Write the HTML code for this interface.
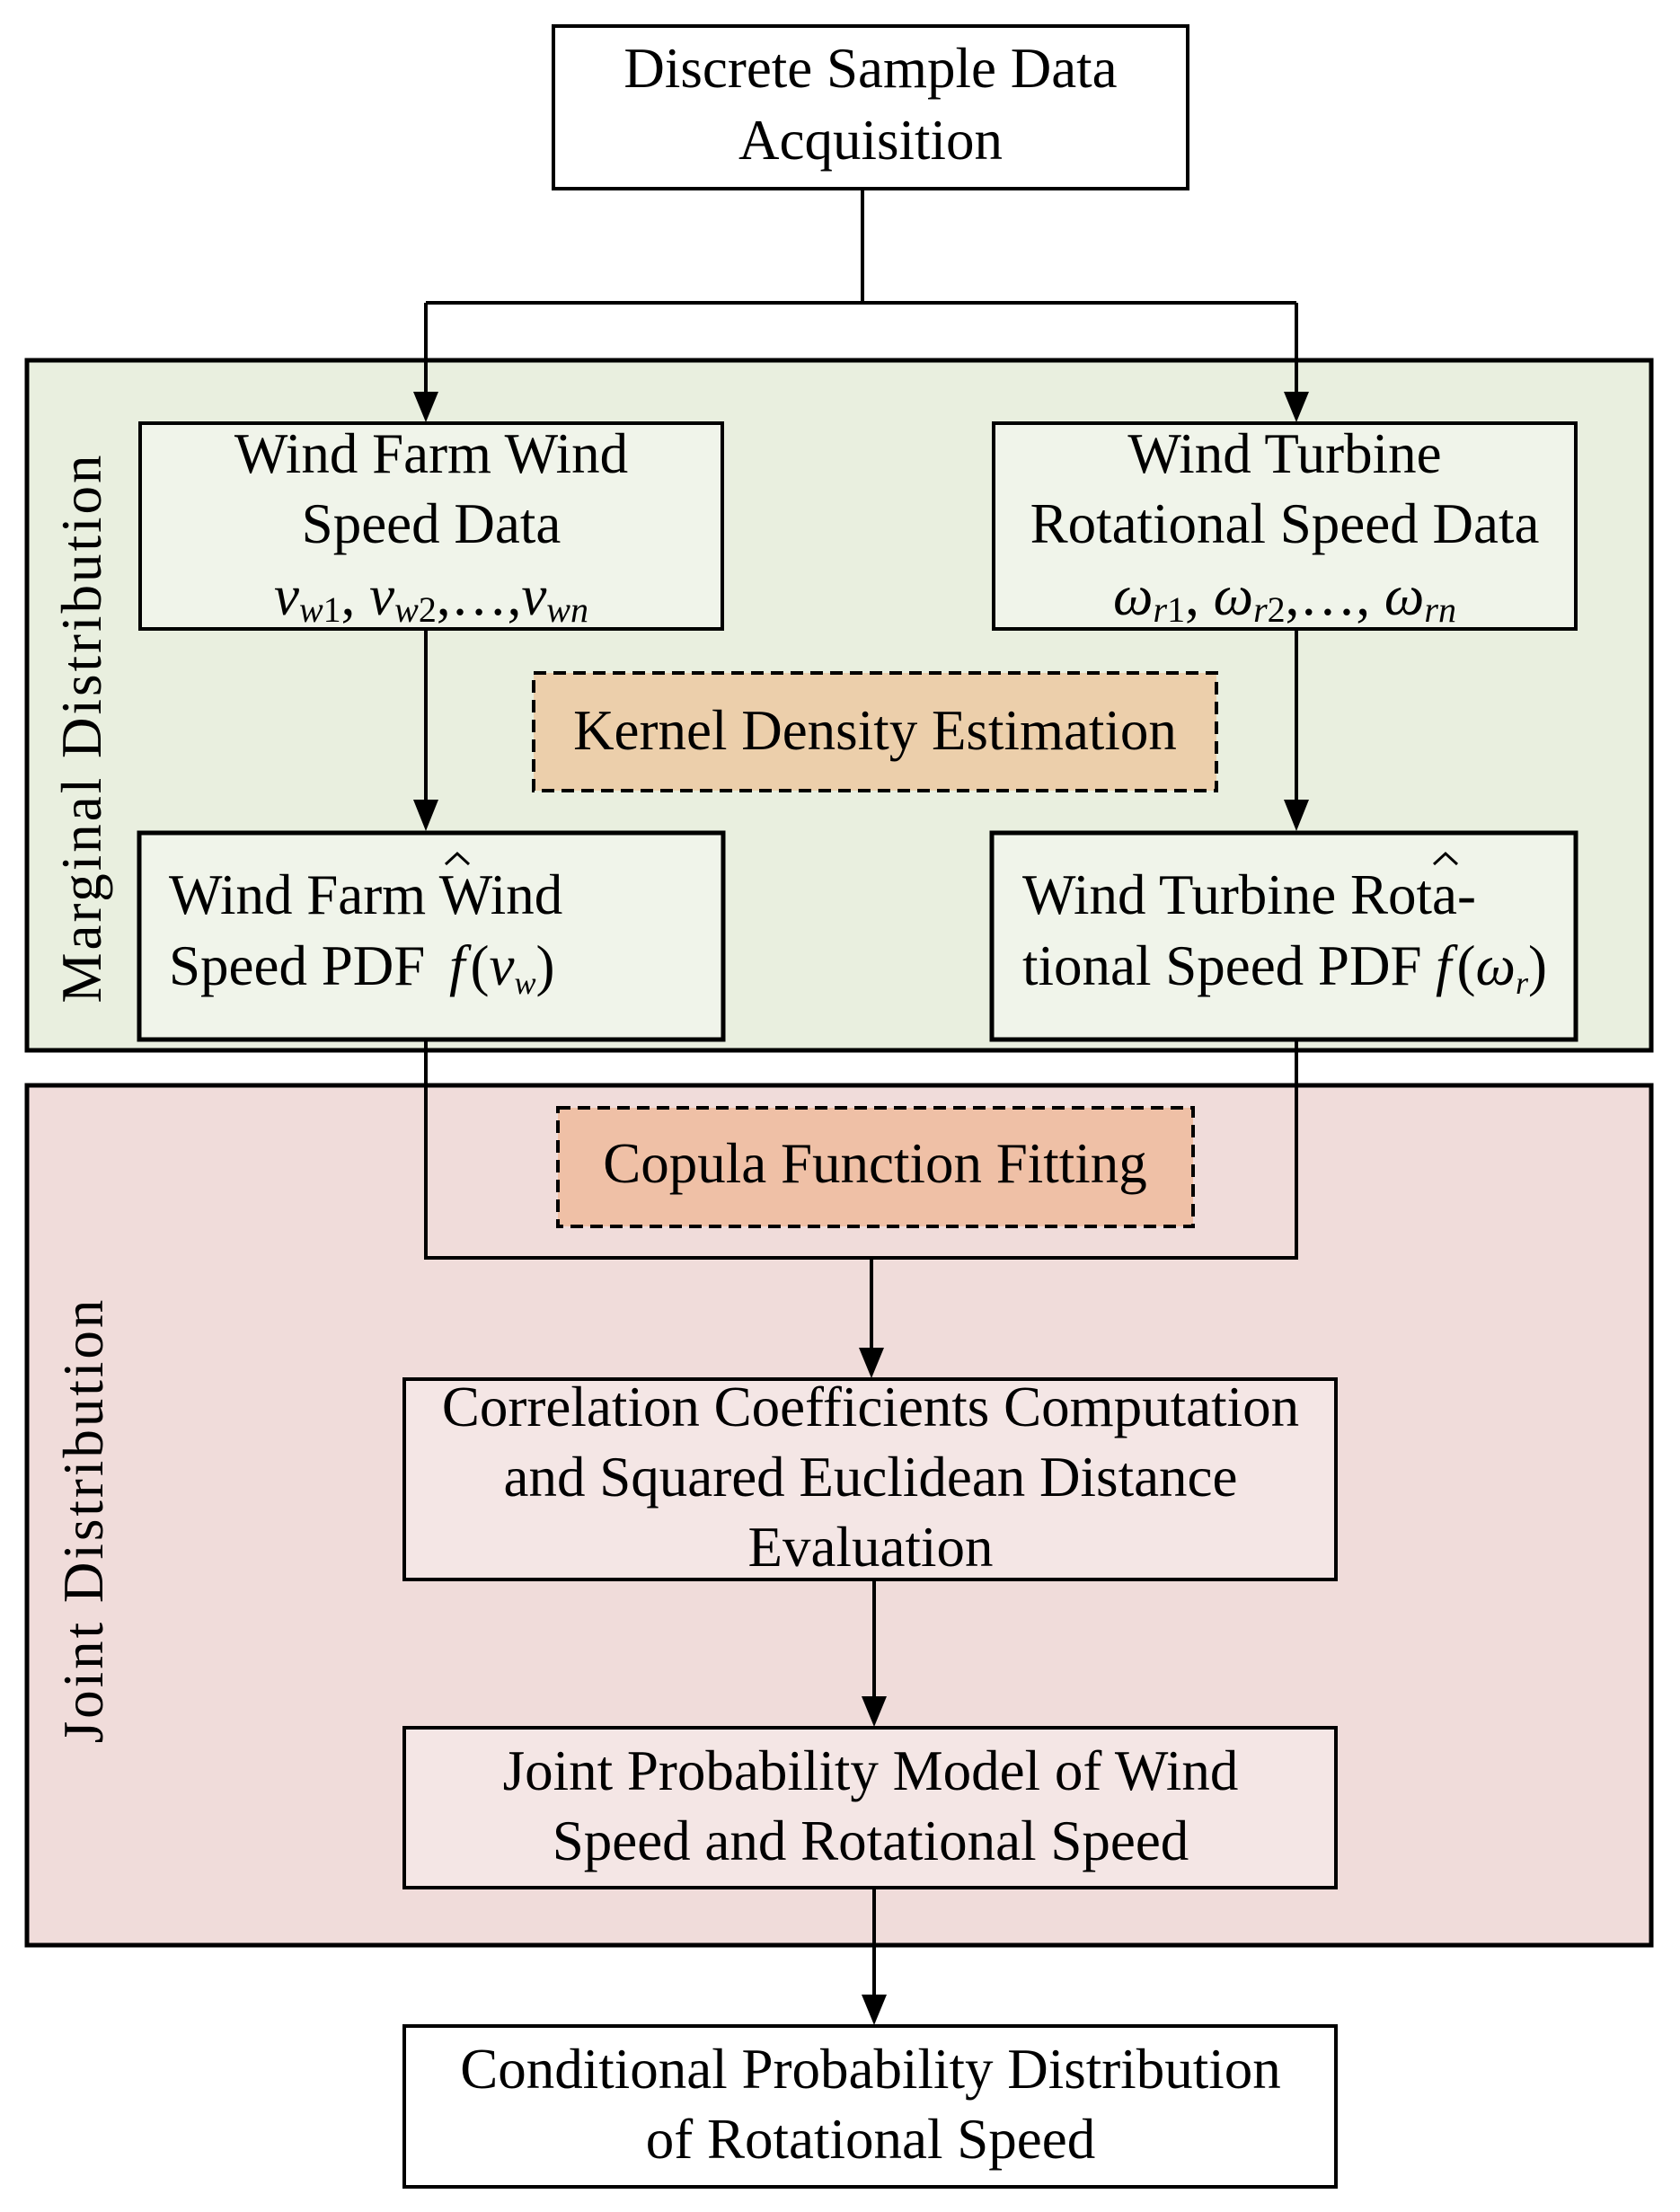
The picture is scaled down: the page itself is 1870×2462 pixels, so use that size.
<!DOCTYPE html>
<html><head><meta charset="utf-8"><style>
html,body{margin:0;padding:0;background:#fff;}
svg{display:block;}
text{font-family:"Liberation Serif",serif;font-size:63px;fill:#000;}
</style></head><body>
<svg width="1870" height="2462" viewBox="0 0 1870 2462" xmlns="http://www.w3.org/2000/svg">
<rect x="30" y="401" width="1808" height="768" fill="#e9efdf" stroke="#000" stroke-width="5"/>
<rect x="30" y="1208" width="1808" height="957" fill="#f0dcda" stroke="#000" stroke-width="5"/>
<rect x="616" y="29" width="706" height="181" fill="#fff" stroke="#000" stroke-width="4"/>
<text x="969" y="97" text-anchor="middle">Discrete Sample Data</text>
<text x="969" y="177" text-anchor="middle">Acquisition</text>
<g stroke="#000" stroke-width="4" fill="none">
<polyline points="960,210 960,337"/>
<polyline points="474,337 1443,337"/>
<line x1="474" y1="337" x2="474" y2="440"/>
<line x1="1443" y1="337" x2="1443" y2="440"/>
<line x1="474" y1="700" x2="474" y2="895"/>
<line x1="1443" y1="700" x2="1443" y2="895"/>
<polyline points="474,1155 474,1400 1443,1400 1443,1155"/>
<line x1="970" y1="1400" x2="970" y2="1502"/>
<line x1="973" y1="1759" x2="973" y2="1890"/>
<line x1="973" y1="2102" x2="973" y2="2222"/>
</g>
<g fill="#000">
<path d="M460,436 L488,436 L474,470 z"/>
<path d="M1429,436 L1457,436 L1443,470 z"/>
<path d="M460,890 L488,890 L474,925 z"/>
<path d="M1429,890 L1457,890 L1443,925 z"/>
<path d="M956,1500 L984,1500 L970,1534 z"/>
<path d="M959,1888 L987,1888 L973,1922 z"/>
<path d="M959,2220 L987,2220 L973,2254 z"/>
</g>
<rect x="156" y="471" width="648" height="229" fill="#f0f4ea" stroke="#000" stroke-width="4"/>
<text x="480" y="526" text-anchor="middle">Wind Farm Wind</text>
<text x="480" y="604" text-anchor="middle">Speed Data</text>
<text x="480" y="684" text-anchor="middle" font-style="italic">v<tspan font-size="40" dy="8">w</tspan><tspan font-size="40" font-style="normal">1</tspan><tspan dy="-8" font-style="normal">, </tspan>v<tspan font-size="40" dy="8">w</tspan><tspan font-size="40" font-style="normal">2</tspan><tspan dy="-8" font-style="normal">,…,</tspan>v<tspan font-size="40" dy="8">wn</tspan></text>
<rect x="1106" y="471" width="648" height="229" fill="#f0f4ea" stroke="#000" stroke-width="4"/>
<text x="1430" y="526" text-anchor="middle">Wind Turbine</text>
<text x="1430" y="604" text-anchor="middle">Rotational Speed Data</text>
<text x="1430" y="684" text-anchor="middle" font-style="italic">ω<tspan font-size="40" dy="8">r</tspan><tspan font-size="40" font-style="normal">1</tspan><tspan dy="-8" font-style="normal">, </tspan>ω<tspan font-size="40" dy="8">r</tspan><tspan font-size="40" font-style="normal">2</tspan><tspan dy="-8" font-style="normal">,…, </tspan>ω<tspan font-size="40" dy="8">rn</tspan></text>
<rect x="594" y="749" width="760" height="131" fill="#eccfab" stroke="#000" stroke-width="4" stroke-dasharray="14,8"/>
<text x="974" y="834" text-anchor="middle">Kernel Density Estimation</text>
<rect x="155" y="927" width="650" height="230" fill="#f0f4ea" stroke="#000" stroke-width="5"/>
<text x="188" y="1017">Wind Farm Wind</text>
<text x="188" y="1096">Speed PDF</text>
<text x="500" y="1096"><tspan font-style="italic">f</tspan><tspan dx="6">(</tspan><tspan font-style="italic">v</tspan><tspan font-size="36" font-style="italic" dy="10">w</tspan><tspan dy="-10">)</tspan></text>
<path d="M496,962 L509,950 L522,962" stroke="#000" stroke-width="3" fill="none"/>
<rect x="1104" y="927" width="650" height="230" fill="#f0f4ea" stroke="#000" stroke-width="5"/>
<text x="1138" y="1017">Wind Turbine Rota-</text>
<text x="1138" y="1096">tional Speed PDF</text>
<text x="1598" y="1096"><tspan font-style="italic">f</tspan><tspan dx="6">(</tspan><tspan font-style="italic">ω</tspan><tspan font-size="36" font-style="italic" dy="10">r</tspan><tspan dy="-10">)</tspan></text>
<path d="M1596,962 L1609,950 L1622,962" stroke="#000" stroke-width="3" fill="none"/>
<rect x="621" y="1233" width="707" height="132" fill="#efc0a6" stroke="#000" stroke-width="4" stroke-dasharray="14,8"/>
<text x="974" y="1316" text-anchor="middle">Copula Function Fitting</text>
<rect x="450" y="1535" width="1037" height="223" fill="#f4e6e5" stroke="#000" stroke-width="4"/>
<text x="969" y="1587" text-anchor="middle">Correlation Coefficients Computation</text>
<text x="969" y="1665" text-anchor="middle">and Squared Euclidean Distance</text>
<text x="969" y="1743" text-anchor="middle">Evaluation</text>
<rect x="450" y="1923" width="1037" height="178" fill="#f4e6e5" stroke="#000" stroke-width="4"/>
<text x="969" y="1992" text-anchor="middle">Joint Probability Model of Wind</text>
<text x="969" y="2070" text-anchor="middle">Speed and Rotational Speed</text>
<rect x="450" y="2255" width="1037" height="179" fill="#fff" stroke="#000" stroke-width="4"/>
<text x="969" y="2324" text-anchor="middle">Conditional Probability Distribution</text>
<text x="969" y="2402" text-anchor="middle">of Rotational Speed</text>
<text transform="translate(112,810) rotate(-90)" text-anchor="middle" font-size="55" letter-spacing="3">Marginal Distribution</text>
<text transform="translate(114,1692) rotate(-90)" text-anchor="middle" font-size="55" letter-spacing="3">Joint Distribution</text>
</svg>
</body></html>
